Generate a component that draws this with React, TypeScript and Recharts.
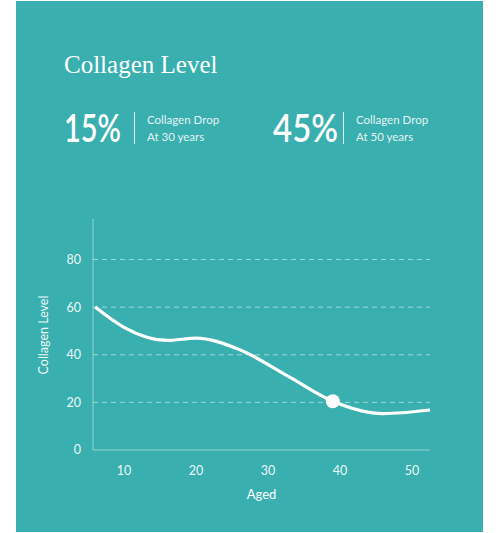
import { LineChart, Line, XAxis, YAxis, CartesianGrid } from "recharts";

// collagen level by age
const ages = [6, 10, 16, 20, 26, 33, 39, 46, 52.5];
const levels = [60, 51.5, 46, 47, 42.2, 30.6, 20.5, 15.3, 16.8];
const highlightAge = 39;

const xTicks = [10, 20, 30, 40, 50];
const yTicks = [0, 20, 40, 60, 80];

const statValues = ["15%", "45%"];
const statLabels = ["Collagen Drop", "Collagen Drop"];
const statSubs = ["At 30 years", "At 50 years"];

const TEAL = "#3aafb0";
const FONT = "Lato, 'Open Sans', sans-serif";

const data = ages.map((age, i) => ({ age, level: levels[i] }));

const renderDot = (p: any) =>
  p.payload.age === highlightAge ? (
    <circle key={p.index} cx={p.cx} cy={p.cy} r={7} fill="#fff" />
  ) : (
    <g key={p.index} />
  );

function Header() {
  const xs = [64, 273];
  return (
    <svg width={500} height={200} style={{ position: "absolute", left: 0, top: 0 }}>
      <text x={64} y={72.5} fill="#fff" fontFamily="'Liberation Serif', serif" fontSize={25}>
        Collagen Level
      </text>
      {statValues.map((v, i) => {
        const x = xs[i];
        return (
          <g key={v}>
            <text
              x={x}
              y={141.5}
              fill="#fff"
              fontFamily={FONT}
              fontSize={39}
              fontWeight={600}
              textLength={i === 0 ? 57 : 65}
              lengthAdjust="spacingAndGlyphs"
            >
              {v}
            </text>
            <line x1={x + 70.5} x2={x + 70.5} y1={112} y2={144} stroke="rgba(255,255,255,0.8)" strokeWidth={1} />
            <text x={x + 83} y={123.5} fill="rgba(255,255,255,0.88)" fontFamily={FONT} fontSize={11.5}>
              {statLabels[i]}
            </text>
            <text x={x + 83} y={140.5} fill="rgba(255,255,255,0.88)" fontFamily={FONT} fontSize={11.5}>
              {statSubs[i]}
            </text>
          </g>
        );
      })}
    </svg>
  );
}

export default function App() {
  const tick = { fill: "rgba(255,255,255,0.92)", fontSize: 12.5, fontFamily: FONT };
  return (
    <div style={{ position: "relative", width: 500, height: 533, background: "#fff" }}>
      <style>{"body{margin:0}"}</style>
      <div style={{ position: "absolute", left: 16, top: 1, width: 467, height: 531, background: TEAL }} />
      <Header />
      <div
        style={{
          position: "absolute",
          left: 43,
          top: 335,
          transform: "translate(-50%, -50%) rotate(-90deg)",
          whiteSpace: "nowrap",
          color: "rgba(255,255,255,0.92)",
          fontFamily: FONT,
          fontSize: 12.5,
        }}
      >
        Collagen Level
      </div>
      <div style={{ position: "absolute", left: 0, top: 200 }}>
        <LineChart width={500} height={333} data={data} margin={{ top: 19, right: 70, bottom: 43, left: 33 }}>
          <CartesianGrid
            vertical={false}
            horizontalValues={[20, 40, 60, 80]}
            stroke="rgba(255,255,255,0.5)"
            strokeDasharray="5 4"
          />
          <XAxis
            dataKey="age"
            type="number"
            domain={[5.7, 52.5]}
            ticks={xTicks}
            allowDataOverflow
            axisLine={{ stroke: "rgba(255,255,255,0.45)" }}
            tickLine={false}
            tickSize={0}
            tickMargin={16}
            height={40}
            tick={tick}
            label={{ value: "Aged", position: "bottom", offset: 0, fill: "#fff", fontSize: 13, fontFamily: FONT }}
          />
          <YAxis
            type="number"
            domain={[0, 97]}
            ticks={yTicks}
            allowDataOverflow
            width={60}
            axisLine={{ stroke: "rgba(255,255,255,0.45)" }}
            tickLine={false}
            tickSize={0}
            tickMargin={12}
            tick={tick}
          />
          <Line
            type="monotone"
            dataKey="level"
            stroke="#fff"
            strokeWidth={3.2}
            dot={renderDot}
            activeDot={false}
            isAnimationActive={false}
          />
        </LineChart>
      </div>
    </div>
  );
}
